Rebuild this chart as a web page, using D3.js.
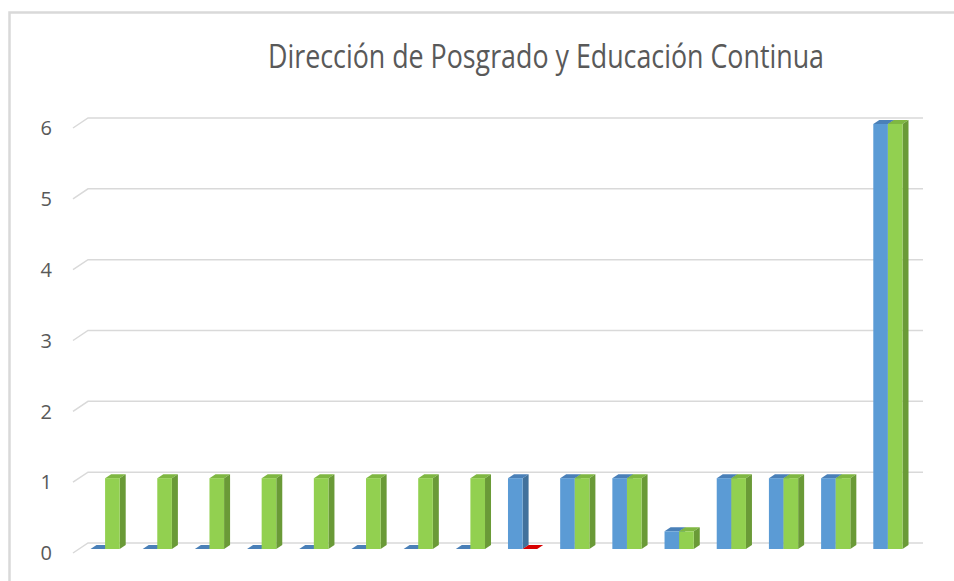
<!DOCTYPE html>
<html>
<head>
<meta charset="utf-8">
<script src="https://cdn.jsdelivr.net/npm/d3@7/dist/d3.min.js"></script>
<style>
body { margin: 0; background: #fff; }
svg { display: block; }
</style>
</head>
<body>
<svg id="chart" width="954" height="581"></svg>
<script>
var categories = ["1","2","3","4","5","6","7","8","9","10","11","12","13","14","15","16"];
var serieA = [0,0,0,0,0,0,0,0,1,1,1,0.25,1,1,1,6];
var serieB = [1,1,1,1,1,1,1,1,0,1,1,0.25,1,1,1,6];
var yTicks = [0,1,2,3,4,5,6];
var title = "Dirección de Posgrado y Educación Continua";

var svg = d3.select("#chart");

// marco del grafico
svg.append("path")
	.attr("d", "M9.5,581 L9.5,12.5 L954,12.5")
	.attr("fill", "none")
	.attr("stroke", "#d9d9d9")
	.attr("stroke-width", 2.5);

svg.append("text")
	.attr("x", 546)
	.attr("y", 68)
	.attr("text-anchor", "middle")
	.attr("font-family", "Open Sans")
	.attr("font-size", 32)
	.attr("fill", "#595959")
	.attr("textLength", 556)
	.attr("lengthAdjust", "spacingAndGlyphs")
	.text(title);

// pared del fondo
var x = d3.scaleBand()
	.domain(categories)
	.range([88, 923]);

var y = d3.scaleLinear()
	.domain([0, 6])
	.range([543, 118]);

// desplazamiento de profundidad (fondo -> frente)
var depthX = -15, depthY = 10;

var grid = svg.append("g");
yTicks.forEach(function(t)
{
	var gy = y(t);
	grid.append("path")
		.attr("d", "M" + (x.range()[0] + depthX) + "," + (gy + depthY) +
			" L" + x.range()[0] + "," + gy + " L" + x.range()[1] + "," + gy)
		.attr("fill", "none")
		.attr("stroke", "#d9d9d9")
		.attr("stroke-width", 1.5);
	svg.append("text")
		.attr("x", 52)
		.attr("y", gy + depthY)
		.attr("dy", "0.36em")
		.attr("text-anchor", "end")
		.attr("font-family", "Open Sans")
		.attr("font-size", "20px")
		.attr("fill", "#595959")
		.text(t);
});

var front = 0.6, back = 0.2;
var barW = x.bandwidth() * 0.28;

function bar(g, cx, v, col)
{
	var fx = cx + depthX * front, fy = depthY * front;
	var bx = depthX * (front - back), by = depthY * (front - back);
	var x0 = fx, x1 = fx + barW;
	var yb = y(0) + fy, yt = y(v) + fy;
	// cara superior
	g.append("path")
		.attr("d", "M" + x0 + "," + yt + " L" + x1 + "," + yt +
			" L" + (x1 - bx) + "," + (yt - by) + " L" + (x0 - bx) + "," + (yt - by) + "Z")
		.attr("fill", col.top);
	if (v > 0) {
		// cara lateral
		g.append("path")
			.attr("d", "M" + x1 + "," + yt + " L" + (x1 - bx) + "," + (yt - by) +
				" L" + (x1 - bx) + "," + (yb - by) + " L" + x1 + "," + yb + "Z")
			.attr("fill", col.side);
		g.append("rect")
			.attr("x", x0)
			.attr("y", yt)
			.attr("width", barW)
			.attr("height", yb - yt)
			.attr("fill", col.front);
	}
}

var blue = { front: "#5b9bd5", side: "#41719c", top: "#4a80b8" };
var green = { front: "#92d050", side: "#6a9a37", top: "#7fb742" };
var red = { front: "#e00000", side: "#a00000", top: "#d80000" };

var bars = svg.append("g");
categories.forEach(function(c, i)
{
	var cx = x(c) + x.bandwidth() / 2;
	bar(bars, cx - barW, serieA[i], blue);
	bar(bars, cx, serieB[i], serieB[i] === 0 && serieA[i] > 0 ? red : green);
});
</script>
</body>
</html>
